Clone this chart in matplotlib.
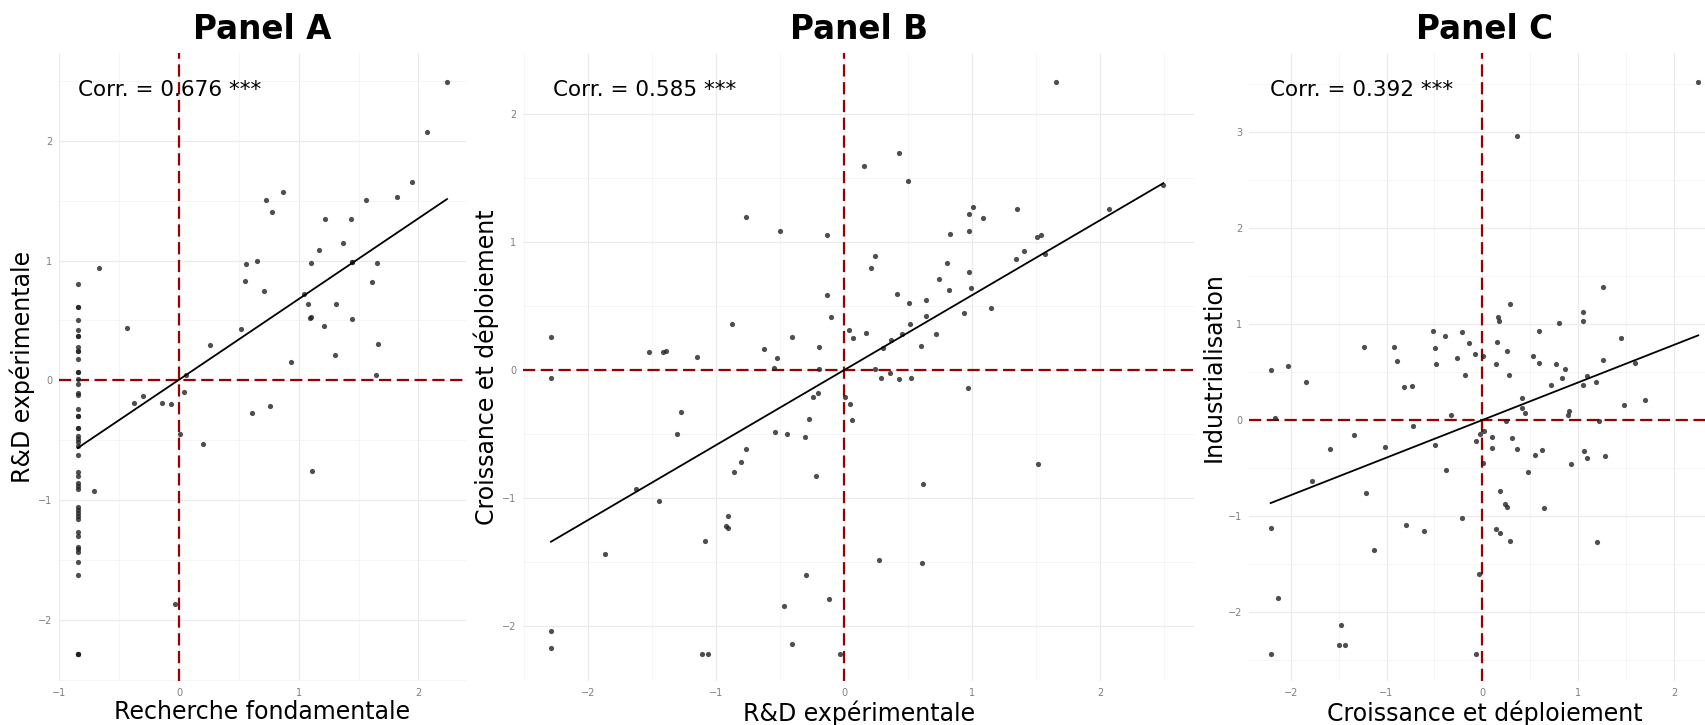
import matplotlib
matplotlib.use("Agg")
import matplotlib.pyplot as plt
from matplotlib.ticker import MultipleLocator
import numpy as np

# Panel A : Recherche fondamentale (x) vs R&D experimentale (y)
col_x = -0.846
col_y = [0.807, 0.615, 0.615, 0.50, 0.42, 0.37, 0.37, 0.276, 0.245, 0.245, 0.175,
         0.067, 0.067, 0.008, -0.028, -0.109, -0.125, -0.24, -0.298, -0.298, -0.401,
         -0.401, -0.465, -0.49, -0.518, -0.549, -0.624, -0.769, -0.797, -0.855, -0.88,
         -0.908, -1.058, -1.083, -1.111, -1.134, -1.156, -1.267, -1.3, -1.39, -1.412,
         -1.437, -1.52, -1.624, -2.284, -2.284, -2.284]
a_x_rest = [2.239, 2.072, 1.949, 1.818, 1.565, 0.869, 0.724, 0.777, 1.22, 1.434, 1.373,
            1.172, 0.649, 0.56, 1.103, 1.448, 1.448, 1.651, 0.549, 1.615, 0.71, 1.044,
            1.075, 1.312, 1.094, 1.10, 1.448, 1.211, 0.518, 1.663, 1.306, 0.256, -0.666,
            -0.434, 0.936, 1.646, 0.058, 0.045, -0.298, -0.379, -0.139, -0.064, 0.011,
            0.2, 0.613, 0.763, 1.111, -0.71, -0.033]
a_y_rest = [2.495, 2.07, 1.657, 1.531, 1.509, 1.57, 1.51, 1.406, 1.35, 1.345, 1.15,
            1.089, 1.0, 0.972, 0.98, 0.986, 0.986, 0.98, 0.832, 0.818, 0.743, 0.718,
            0.637, 0.637, 0.523, 0.53, 0.51, 0.456, 0.426, 0.303, 0.211, 0.292, 0.938,
            0.434, 0.153, 0.047, 0.042, -0.098, -0.128, -0.193, -0.19, -0.2, -0.446,
            -0.535, -0.27, -0.218, -0.76, -0.925, -1.866]
fond = [col_x] * len(col_y) + a_x_rest
rd_a = col_y + a_y_rest

# Panel B : R&D experimentale (x) vs Croissance et deploiement (y)
rd_b = [-2.287, -2.287, -0.768, -0.502, -0.13, 0.154, 0.239, 0.211, -0.133, -0.101,
        -0.877, -0.406, 0.036, 0.07, 0.174, -1.522, -1.415, -1.39, -1.15, -0.625,
        -0.52, -0.549, -0.193, -0.193, 0.245, 0.289, 0.302, 1.655, 0.427, 0.502,
        1.005, 0.978, 1.088, 1.35, 2.071, 2.493, 0.83, 0.976, 1.509, 1.535, 1.569,
        1.405, 1.343, 0.807, 0.744, 0.978, 0.817, 0.989, 0.416, 0.507, 0.638, 0.638,
        0.937, 1.148, 0.513, 0.455, 0.716, 0.364, 0.601, 0.359, 0.432, 0.526, 0.971,
        1.512, 0.614, 0.276, 0.611, 0.005, 0.044, 0.065, -0.239, -0.203, -0.271,
        -1.27, -1.306, -0.536, -0.447, -0.302, -0.762, -0.801, -0.859, -0.216,
        -1.624, -1.447, -0.903, -0.924, -0.908, -1.082, -1.868, -0.299, -0.115,
        -0.471, -0.406, -2.287, -2.287, -1.111, -1.062, -0.031]
crois_b = [0.255, -0.06, 1.194, 1.088, 1.051, 1.59, 0.89, 0.799, 0.588, 0.414,
           0.362, 0.26, 0.312, 0.247, 0.291, 0.138, 0.141, 0.148, 0.104, 0.161,
           0.096, 0.016, 0.177, 0.01, 0.005, -0.06, 0.174, 2.251, 1.694, 1.475,
           1.272, 1.215, 1.187, 1.254, 1.257, 1.444, 1.059, 1.088, 1.041, 1.054, 0.906,
           0.926, 0.864, 0.835, 0.713, 0.765, 0.625, 0.64, 0.596, 0.523, 0.549, 0.419,
           0.442, 0.481, 0.356, 0.278, 0.284, 0.234, 0.185, -0.026, -0.068, -0.06, -0.141,
           -0.736, -0.89, -1.483, -1.507, -0.213, -0.263, -0.393, -0.211, -0.18, -0.382,
           -0.328, -0.5, -0.487, -0.5, -0.52, -0.614, -0.721, -0.794, -0.827,
           -0.926, -1.02, -1.14, -1.215, -1.236, -1.337, -1.439, -1.6, -1.785,
           -1.842, -2.141, -2.035, -2.17, -2.214, -2.214, -2.214]

# Panel C : Croissance et deploiement (x) vs Industrialisation (y)
crois_c = [2.253, 0.359, 1.257, 0.293, 0.164, 0.178, 1.055, 1.055, 0.798, 0.589, -0.518,
           -0.386, -0.212, -0.136, 0.154, 1.449, -1.235, -0.922, -0.494, 0.261, -0.073,
           0.01, 0.526, -0.261, -0.888, 0.595, 1.261, -0.487, 0.143, 0.766, 1.592,
           -2.033, -2.21, 0.864, -0.178, 0.279, 0.836, 1.09, -1.841, -0.821, -0.731,
           0.714, 1.045, 1.188, 1.696, 1.477, 0.415, 0.418, 0.446, 0.902, 0.892,
           -0.324, -2.162, 0.251, 1.219, -0.72, 0.018, -0.024, 0.098, -0.062, 0.313,
           -1.337, -1.013, -1.594, -0.494, 0.104, 0.362, 0.627, 1.062, 0.55, 1.09,
           1.275, 0.004, 0.93, -0.379, 0.481, -1.782, 0.181, -1.211, 0.237, 0.258,
           0.644, -0.209, -2.21, -0.793, -0.609, 0.143, 0.188, 0.289, 1.198, -1.134,
           -0.035, -2.137, -1.479, -1.5, -1.437, -2.21, -0.062]
indus_c = [3.528, 2.965, 1.383, 1.206, 1.071, 1.035, 1.129, 1.029, 1.008, 0.925, 0.928,
           0.872, 0.918, 0.806, 0.81, 0.851, 0.761, 0.761, 0.751, 0.72, 0.691,
           0.667, 0.664, 0.643, 0.612, 0.598, 0.622, 0.581, 0.584, 0.584, 0.594,
           0.566, 0.518, 0.532, 0.466, 0.466, 0.441, 0.459, 0.4, 0.344, 0.351,
           0.365, 0.362, 0.393, 0.209, 0.156, 0.226, 0.122, 0.073, 0.09, 0.056,
           0.056, 0.021, -0.01, -0.01, -0.063, -0.115, -0.149, -0.174, -0.215, -0.184,
           -0.16, -0.278, -0.306, -0.257, -0.292, -0.302, -0.309, -0.32, -0.365, -0.4,
           -0.375, -0.452, -0.462, -0.521, -0.546, -0.636, -0.737, -0.758, -0.872, -0.907,
           -0.914, -1.022, -1.126, -1.095, -1.157, -1.14, -1.178, -1.265, -1.276, -1.352,
           -1.606, -1.86, -2.134, -2.35, -2.35, -2.437, -2.437]

titles = ["Panel A", "Panel B", "Panel C"]
xlabels = ["Recherche fondamentale", "R&D expérimentale", "Croissance et déploiement"]
ylabels = ["R&D expérimentale", "Croissance et déploiement", "Industrialisation"]
corr_txt = ["Corr. = 0.676 ***", "Corr. = 0.585 ***", "Corr. = 0.392 ***"]
xs = [fond, rd_b, crois_c]
ys = [rd_a, crois_b, indus_c]

W, H = 1706, 725
fig = plt.figure(figsize=(W / 100, H / 100), dpi=100)

# panel boxes in pixels (left, right), shared top/bottom
boxes = [(59.3, 465.7), (523.3, 1194.3), (1249.3, 1720)]
top, bottom = 53, 680.7
xlims = [(-1.0, 2.395), (-2.503, 2.735), (-2.433, 2.48)]
ylims = [(-2.51, 2.734), (-2.425, 2.475), (-2.718, 3.827)]

for i in range(3):
    l, r = boxes[i]
    ax = fig.add_axes([l / W, 1 - bottom / H, (r - l) / W, (bottom - top) / H])
    x = np.array(xs[i])
    y = np.array(ys[i])

    ax.set_xlim(*xlims[i])
    ax.set_ylim(*ylims[i])
    ax.xaxis.set_major_locator(MultipleLocator(1))
    ax.yaxis.set_major_locator(MultipleLocator(1))
    ax.xaxis.set_minor_locator(MultipleLocator(0.5))
    ax.yaxis.set_minor_locator(MultipleLocator(0.5))
    ax.grid(which="major", color="#ebebeb", lw=0.9)
    ax.grid(which="minor", color="#f2f2f2", lw=0.5)
    ax.set_axisbelow(True)
    for s in ax.spines.values():
        s.set_visible(False)
    ax.tick_params(which="both", length=0)
    ax.tick_params(axis="both", labelsize=7, labelcolor="#7f7f7f", pad=5)

    ax.axhline(0, color="#9b0000", lw=1.6, dashes=(5.5, 2.5), zorder=1)
    ax.axvline(0, color="#9b0000", lw=1.6, dashes=(5.5, 2.5), zorder=1)

    ax.scatter(x, y, s=14, color="#222222", alpha=0.8, linewidths=0, zorder=2)

    k, b = np.polyfit(x, y, 1)
    xx = np.array([x.min(), x.max()])
    ax.plot(xx, k * xx + b, color="black", lw=1.3, zorder=3)

    ax.text(0.045, 0.941, corr_txt[i], transform=ax.transAxes, fontsize=15.5,
            ha="left", va="center", zorder=4)
    ax.set_title(titles[i], fontsize=23.5, fontweight="bold", pad=10)
    ax.set_xlabel(xlabels[i], fontsize=17, labelpad=2)
    ax.set_ylabel(ylabels[i], fontsize=17, labelpad=2)

fig.savefig("out.png", dpi=100, facecolor="white")
